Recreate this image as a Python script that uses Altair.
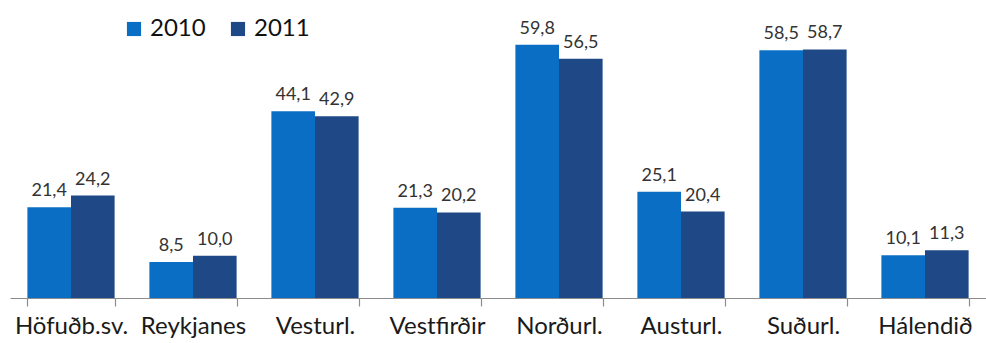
import altair as alt
import pandas as pd

regions = ["Höfuðb.sv.", "Reykjanes", "Vesturl.", "Vestfirðir",
           "Norðurl.", "Austurl.", "Suðurl.", "Hálendið"]
values_2010 = [21.4, 8.5, 44.1, 21.3, 59.8, 25.1, 58.5, 10.1]
values_2011 = [24.2, 10.0, 42.9, 20.2, 56.5, 20.4, 58.7, 11.3]
years = ["2010", "2011"]
colors = ["#0a6fc4", "#1f4886"]

rows = []
for i, r in enumerate(regions):
    rows.append({"region": r, "year": years[0], "value": values_2010[i]})
    rows.append({"region": r, "year": years[1], "value": values_2011[i]})
df = pd.DataFrame(rows)

FONT = "Lato"

x = alt.X("region:N", sort=regions, title=None,
          scale=alt.Scale(paddingInner=0.285, paddingOuter=0.1425),
          axis=alt.Axis(labelAngle=0, labelFontSize=24, labelColor="#1a1a1a",
                        labelFont=FONT, labelPadding=8, tickBand="extent",
                        tickSize=8, tickColor="#8c8c8c", domainColor="#8c8c8c",
                        domainWidth=1.2, tickWidth=1.2))
y = alt.Y("value:Q", title=None, scale=alt.Scale(domain=[0, 68]), axis=None)

bars = alt.Chart(df).mark_bar().encode(
    x=x, y=y, xOffset=alt.XOffset("year:N", sort=years),
    color=alt.Color("year:N", sort=years,
                    scale=alt.Scale(domain=years, range=colors),
                    legend=alt.Legend(title=None, orient="none", legendX=112,
                                      legendY=7, direction="horizontal",
                                      symbolType="square", symbolSize=200,
                                      symbolStrokeWidth=0, labelFontSize=24,
                                      labelFont=FONT, labelColor="#111111",
                                      columnPadding=20, labelOffset=4)),
)

labels = alt.Chart(df).transform_calculate(
    label="replace(format(datum.value, '.1f'), '.', ',')"
).mark_text(baseline="bottom", dy=-7, fontSize=18, font=FONT,
            color="#333333").encode(
    x=x, y=y, xOffset=alt.XOffset("year:N", sort=years),
    text="label:N",
)

chart = alt.layer(bars, labels).properties(
    width=976, height=288,
    padding={"left": 10, "top": 10, "right": 0, "bottom": 45},
    autosize=alt.AutoSizeParams(type="none"),
).configure(background="white").configure_view(stroke=None)

chart.save("out.html", embed_options={"renderer": "svg", "actions": False})
